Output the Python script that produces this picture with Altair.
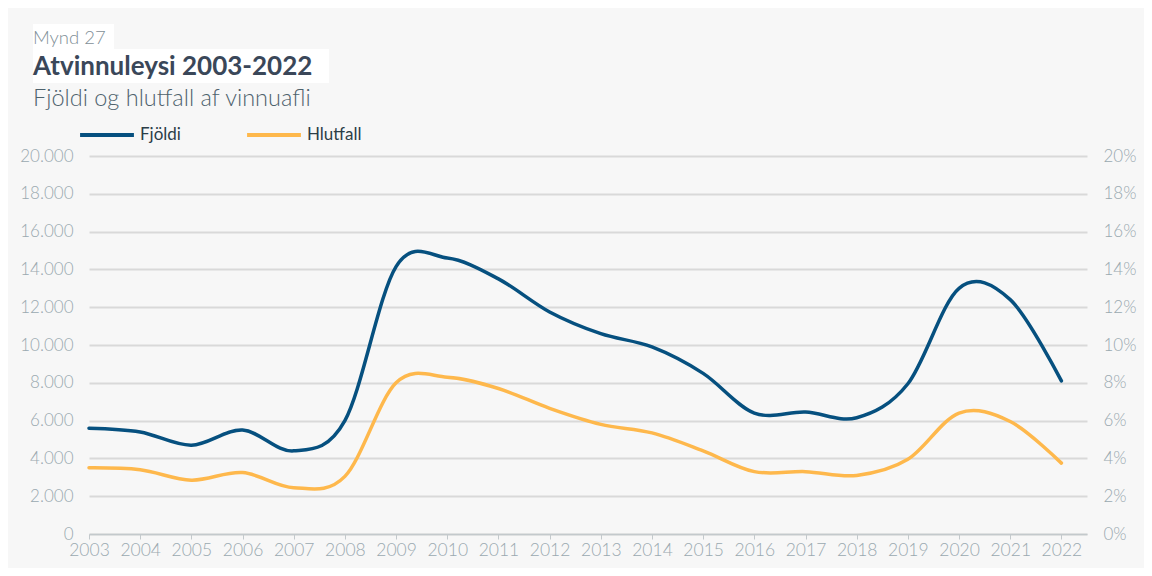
import altair as alt
import pandas as pd

years = list(range(2003, 2023))
fjoldi = [5600, 5400, 4700, 5500, 4400, 6000, 14150, 14600, 13500, 11750,
          10600, 9900, 8500, 6400, 6450, 6150, 7950, 13000, 12400, 8100]
hlutfall = [3.5, 3.4, 2.85, 3.25, 2.45, 3.05, 8.0, 8.3, 7.7, 6.65,
            5.8, 5.35, 4.4, 3.3, 3.3, 3.1, 3.95, 6.4, 5.95, 3.75]
series_names = ["Fjöldi", "Hlutfall"]
series_colors = ["#06507f", "#feb84c"]
left_ticks = [0, 2000, 4000, 6000, 8000, 10000, 12000, 14000, 16000, 18000, 20000]
right_ticks = [0, 2, 4, 6, 8, 10, 12, 14, 16, 18, 20]

header_mynd = "Mynd 27"
header_title = "Atvinnuleysi 2003-2022"
header_sub = "Fjöldi og hlutfall af vinnuafli"

df = pd.DataFrame({"ar": years, "fjoldi": fjoldi, "hlutfall": hlutfall})

FONT = "Lato"
LABEL_COLOR = "#9aa9b0"

color_scale = alt.Scale(domain=series_names, range=series_colors)

xenc = alt.X(
    "ar:Q",
    scale=alt.Scale(domain=[2003, 2022.5], nice=False, zero=False),
    axis=alt.Axis(values=years, format="d", title=None, grid=False,
                  labelFontSize=17.5, labelFont=FONT, labelColor=LABEL_COLOR,
                  labelFontWeight=300, labelPadding=2, tickSize=5,
                  tickColor="#c3c9cc", domainColor="#c3c9cc", domainWidth=1.5,
                  labelOverlap=False, labelFlush=False, labelBound=False),
)

line_left = alt.Chart(df).mark_line(interpolate="cardinal", strokeWidth=3.5, strokeCap="round").encode(
    x=xenc,
    y=alt.Y("fjoldi:Q", scale=alt.Scale(domain=[0, 20000], nice=False),
            axis=alt.Axis(values=left_ticks, title=None, orient="left",
                          labelExpr="replace(format(datum.value, ','), ',', '.')",
                          labelFontSize=17, labelFont=FONT, labelColor=LABEL_COLOR,
                          labelFontWeight=300, labelPadding=16, ticks=False, domain=False,
                          grid=True, gridColor="#d9d9d9", gridWidth=2)),
    color=alt.Color("s:N", scale=color_scale,
                    legend=alt.Legend(orient="none", legendX=-11, legendY=-50,
                                      direction="horizontal", title=None,
                                      symbolType="stroke", symbolSize=2900,
                                      symbolStrokeWidth=4, labelFontSize=17,
                                      labelFont=FONT, labelColor="#2c3e48",
                                      labelFontWeight="normal", labelOffset=4,
                                      columnPadding=58)),
).transform_calculate(s="'Fjöldi'")

line_right = alt.Chart(df).mark_line(interpolate="cardinal", strokeWidth=3.5, strokeCap="round").encode(
    x=xenc,
    y=alt.Y("hlutfall:Q", scale=alt.Scale(domain=[0, 20], nice=False),
            axis=alt.Axis(values=right_ticks, title=None, orient="right",
                          labelExpr="datum.value + '%'",
                          labelFontSize=17, labelFont=FONT, labelColor=LABEL_COLOR,
                          labelFontWeight=300, labelPadding=16, ticks=False, domain=False,
                          grid=False)),
    color=alt.Color("s:N", scale=color_scale),
).transform_calculate(s="'Hlutfall'")

one = alt.Data(values=[{"a": 1}])

box1 = alt.Chart(one).mark_rect(color="white").encode(
    x=alt.value(-56), x2=alt.value(25), y=alt.value(-132), y2=alt.value(-107))
box2 = alt.Chart(one).mark_rect(color="white").encode(
    x=alt.value(-56), x2=alt.value(240), y=alt.value(-107), y2=alt.value(-73))

t1 = alt.Chart(one).mark_text(align="left", baseline="alphabetic", font=FONT, fontSize=18.5,
                              fontWeight=300, color="#7f8f97").encode(
    x=alt.value(-56), y=alt.value(-112.5), text=alt.value(header_mynd))
t2 = alt.Chart(one).mark_text(align="left", baseline="alphabetic", font=FONT, fontSize=26,
                              fontWeight="bold", color="#3a4759").encode(
    x=alt.value(-56), y=alt.value(-81), text=alt.value(header_title))
t3 = alt.Chart(one).mark_text(align="left", baseline="alphabetic", font=FONT, fontSize=23.5,
                              fontWeight=300, color="#4e626d").encode(
    x=alt.value(-56), y=alt.value(-50), text=alt.value(header_sub))

chart = alt.layer(
    box1, box2, t1, t2, t3, line_left, line_right
).resolve_scale(y="independent").properties(
    width=998, height=378,
    autosize=alt.AutoSizeParams(type="none"),
    padding={"left": 81, "top": 148, "right": 57, "bottom": 34},
    background="#f7f7f7",
).configure_view(stroke=None)

chart.save("out.html", embed_options={"renderer": "svg", "actions": False})
